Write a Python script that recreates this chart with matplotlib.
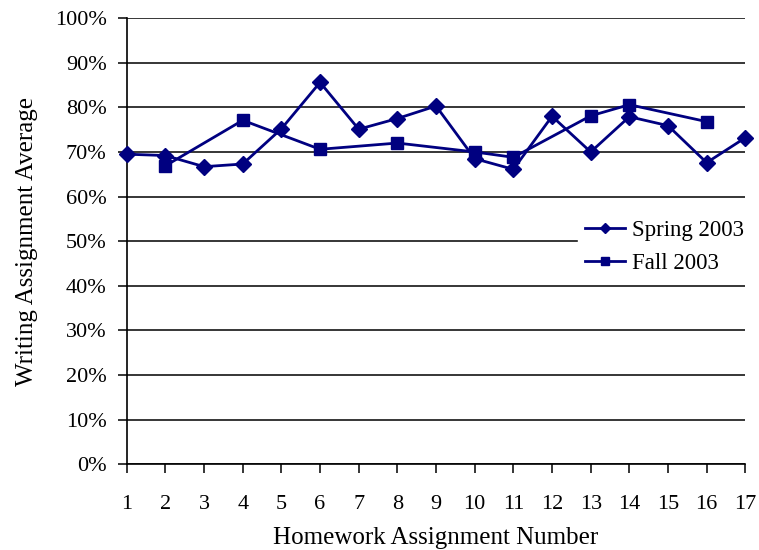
import matplotlib
matplotlib.use("Agg")
from matplotlib import pyplot as plt
from matplotlib.ticker import FuncFormatter

plt.rcParams['font.family'] = ['Liberation Serif', 'DejaVu Serif']

# データ
spring_x = list(range(1, 18))
spring_y = [69.5, 69.2, 66.7, 67.3, 75.2, 85.6, 75.1, 77.5, 80.3,
            68.5, 66.1, 78.0, 70.0, 77.9, 75.9, 67.6, 73.2]
fall_x = [2, 4, 6, 8, 10, 11, 13, 14, 16]
fall_y = [66.9, 77.1, 70.6, 72.0, 70.0, 68.8, 78.1, 80.6, 76.8]

navy = '#000080'

fig = plt.figure(figsize=(7.59, 5.5), dpi=100)
ax = fig.add_axes([0.167, 0.156, 0.815, 0.811])

ax.plot(spring_x, spring_y, color=navy, lw=2, marker='D', markersize=8,
        label='Spring 2003', zorder=3, clip_on=False)
ax.plot(fall_x, fall_y, color=navy, lw=2, marker='s', markersize=9,
        label='Fall 2003', zorder=3, clip_on=False)

ax.set_xlim(1, 17)
ax.set_ylim(0, 100)
ax.set_xticks(spring_x)
ax.set_yticks(range(0, 101, 10))
ax.yaxis.set_major_formatter(FuncFormatter(lambda v, p: '%d%%' % v))
ax.grid(axis='y', color='black', lw=1.1)
ax.set_axisbelow(True)

for s in ['top', 'right']:
    ax.spines[s].set_visible(False)
ax.spines['left'].set_linewidth(1.2)
ax.spines['bottom'].set_linewidth(1.2)
ax.tick_params(direction='out', length=6.5, width=1.1, labelsize=16)
ax.tick_params(axis='y', pad=8)
ax.tick_params(axis='x', pad=16)

ax.set_xlabel('Homework Assignment Number', fontsize=18, labelpad=9)
ax.set_ylabel('Writing Assignment Average', fontsize=18, labelpad=12)

leg = ax.legend(loc='center left', bbox_to_anchor=(0.73, 0.487),
                borderaxespad=0, fontsize=16.5,
                frameon=True, fancybox=False, edgecolor='white',
                framealpha=1, handlelength=1.75, borderpad=0.3,
                labelspacing=0.55, handletextpad=0.3, markerscale=0.7)
leg.set_zorder(5)

plt.savefig('out.png', dpi=100)
